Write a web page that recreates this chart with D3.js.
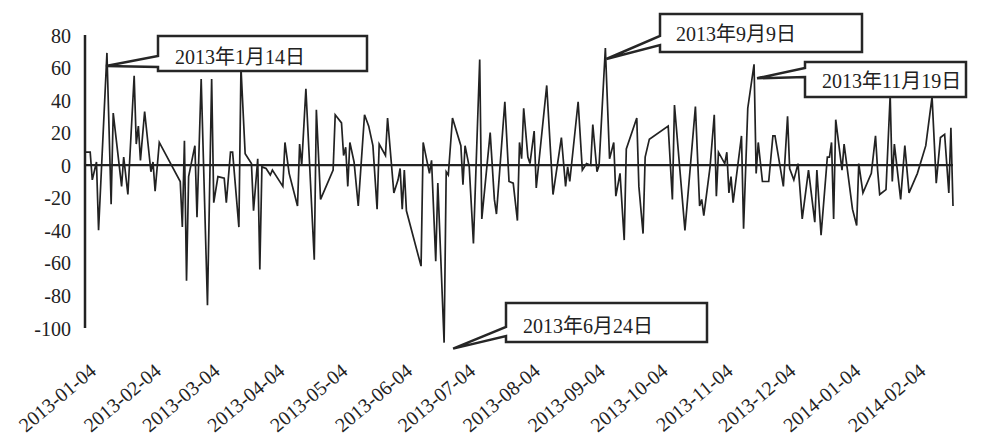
<!DOCTYPE html>
<html lang="zh">

<head>
    <meta charset="UTF-8">
    <script src="https://cdnjs.cloudflare.com/ajax/libs/d3/7.8.5/d3.min.js" type="text/JavaScript"></script>
    <title>Daily series 2013-01 to 2014-02</title>
    <style>
        body { margin: 0; background: #fff; }
        svg { display: block; }
        .lbl { font-family: "Liberation Serif", "Noto Sans CJK SC", serif; fill: #222; }
    </style>
</head>

<body>
    <svg width="1000" height="444"></svg>
    <script>
        // data: days after 2013-01-04 and value of that day
        var startDate = new Date(2013, 0, 4);
        var dayOffsets = [0, 2, 3, 5, 6, 10, 12, 13, 17, 18, 20, 23, 24, 25, 26, 28, 31, 32, 33, 35,
            45, 46, 47, 48, 49, 52, 53, 55, 58, 60, 61, 63, 66, 67, 69, 70, 73, 74, 76, 79,
            80, 82, 83, 84, 86, 88, 89, 94, 95, 97, 101, 102, 103, 105, 109, 110, 112, 118, 119, 122,
            123, 124, 125, 126, 128, 130, 133, 135, 137, 139, 140, 143, 144, 147, 149, 150, 151, 152, 153, 160,
            161, 164, 165, 167, 168, 171, 172, 173, 175, 179, 180, 181, 183, 185, 188, 189, 193, 195, 196, 200,
            202, 204, 206, 207, 208, 209, 211, 212, 214, 215, 220, 223, 227, 229, 230, 231, 235, 237, 239, 241,
            242, 244, 245, 248, 250, 252, 253, 255, 257, 258, 263, 264, 266, 267, 269, 278, 280, 281, 286, 291,
            293, 294, 295, 298, 300, 301, 302, 305, 306, 307, 308, 309, 313, 314, 316, 319, 320, 321, 323, 326,
            328, 329, 333, 335, 336, 338, 340, 342, 345, 348, 349, 351, 354, 355, 356, 357, 358, 361, 362, 366,
            368, 369, 371, 375, 377, 378, 379, 382, 384, 385, 386, 389, 391, 393, 397, 401, 404, 406, 408, 410,
            412, 413, 414];
        var values = [8, 8, -9, 2, -40, 69, -24, 32, -13, 5, -18, 55, 13, 24, 3, 33, -4, 2, -16, 14,
            -10, -38, 15, -71, -7, 12, -32, 53, -86, 53, -23, -7, -8, -23, 8, 8, -38, 60, 7, 1,
            -28, 4, -64, -1, -2, -6, -3, -13, 14, -5, -25, 13, 0, 47, -58, 34, -21, -3, 31, 26,
            6, 11, -13, 14, 2, -25, 31, 24, 12, -27, 13, 6, 29, -17, -9, -2, -27, -3, -28, -62,
            14, -5, 3, -59, -11, -109, -4, -6, 29, 12, -12, 12, -1, -48, 65, -33, 20, -21, -30, 39,
            -10, -11, -34, 14, 4, 35, 5, 1, 21, -14, 49, -18, 17, -13, -1, -10, 39, -3, 1, 0,
            25, -4, 0, 72, 4, 14, -19, -5, -46, 10, 29, -13, -42, 5, 16, 24, -21, 37, -40, 36,
            -25, -21, -31, -1, 31, -19, 8, 1, 8, -17, -7, -23, 18, -39, 35, 62, -5, 14, -10, -10,
            18, 18, -13, 30, -2, -9, 1, -33, -3, -35, -3, -43, 5, 5, 14, -33, 28, -3, 13, -27,
            -37, 1, -17, -5, 18, -3, -18, -15, 43, -10, 13, -21, 12, -17, -5, 12, 42, -11, 17, 19,
            -17, 23, -25];

        var monthTicks = ["2013-01-04", "2013-02-04", "2013-03-04", "2013-04-04", "2013-05-04",
            "2013-06-04", "2013-07-04", "2013-08-04", "2013-09-04", "2013-10-04", "2013-11-04",
            "2013-12-04", "2014-01-04", "2014-02-04"];
        var yTicks = [80, 60, 40, 20, 0, -20, -40, -60, -80, -100];

        var calloutLabels = ["2013年1月14日", "2013年6月24日", "2013年9月9日", "2013年11月19日"];
        var calloutDates = ["2013-01-14", "2013-06-24", "2013-09-09", "2013-11-19"];

        // box geometry of each callout (same order as the labels)
        var boxes = [
            { x0: 158, x1: 367, y0: 36, y1: 71, n0: 56, n1: 67, tdx: -1, tdy: 13, tx: 175, ty: 64 },
            { x0: 506, x1: 707, y0: 303, y1: 342, n0: 327, n1: 336, tdx: 9, tdy: 6, tx: 523, ty: 333 },
            { x0: 660, x1: 862, y0: 14, y1: 52, n0: 36, n1: 45, tdx: 1, tdy: 11, tx: 676, ty: 41 },
            { x0: 805, x1: 966, y0: 62, y1: 97, n0: 68, n1: 77, tdx: 3, tdy: 14, tx: 822, ty: 88 }
        ];

        var parse = d3.timeParse("%Y-%m-%d");
        var data = dayOffsets.map(function (d, i) {
            return { date: d3.timeDay.offset(startDate, d), value: values[i] };
        });

        var svg = d3.select("svg");

        var xScale = d3.scaleTime()
            .domain([startDate, d3.timeDay.offset(startDate, 414)])
            .range([86, 953]);
        var yScale = d3.scaleLinear().domain([-100, 80]).range([328, 35]);

        // y axis labels
        var yAxis = d3.axisLeft(yScale)
            .tickValues(yTicks)
            .tickSize(0)
            .tickPadding(14)
            .tickFormat(function (d) { return String(d); });
        var yG = svg.append("g").attr("transform", "translate(85,0)").call(yAxis);
        yG.select(".domain").remove();
        yG.selectAll("text")
            .attr("class", "lbl")
            .style("font-size", "20px")
            .attr("dy", "0.35em");

        svg.append("line")
            .attr("x1", 85).attr("x2", 85)
            .attr("y1", yScale(80)).attr("y2", yScale(-100))
            .attr("stroke", "#222").attr("stroke-width", 2.5);

        // x labels, rotated
        var xAxis = d3.axisBottom(xScale)
            .tickValues(monthTicks.map(parse))
            .tickSize(0)
            .tickFormat(d3.timeFormat("%Y-%m-%d"));
        var xG = svg.append("g").attr("transform", "translate(0,373)").call(xAxis);
        xG.select(".domain").remove();
        xG.selectAll("text")
            .attr("class", "lbl")
            .style("font-size", "20px")
            .attr("x", 0).attr("y", 0).attr("dy", 0)
            .attr("text-anchor", "end")
            .attr("transform", "translate(11,0) rotate(-40)");

        // zero line
        svg.append("line")
            .attr("x1", 85).attr("x2", xScale(data[data.length - 1].date))
            .attr("y1", yScale(0)).attr("y2", yScale(0))
            .attr("stroke", "#222").attr("stroke-width", 2.2);

        var line = d3.line()
            .x(function (d) { return xScale(d.date); })
            .y(function (d) { return yScale(d.value); });

        svg.append("path")
            .datum(data)
            .attr("d", line)
            .attr("fill", "none")
            .attr("stroke", "#222")
            .attr("stroke-width", 1.7)
            .attr("stroke-linejoin", "miter");

        // callouts
        calloutLabels.forEach(function (label, i) {
            var b = boxes[i];
            var dt = parse(calloutDates[i]);
            var pt = data.find(function (d) { return +d.date === +dt; });
            var tipX = xScale(pt.date) + b.tdx;
            var tipY = yScale(pt.value) + b.tdy;
            var p = "M" + b.x0 + "," + b.y0 + "H" + b.x1 + "V" + b.y1 + "H" + b.x0 +
                "V" + b.n1 + "L" + tipX + "," + tipY + "L" + b.x0 + "," + b.n0 + "Z";
            svg.append("path")
                .attr("d", p)
                .attr("fill", "#fff")
                .attr("stroke", "#262626")
                .attr("stroke-width", 2.5)
                .attr("stroke-linejoin", "miter");
            svg.append("text")
                .attr("class", "lbl")
                .attr("x", b.tx).attr("y", b.ty)
                .style("font-size", "20px")
                .text(label);
        });
    </script>
</body>

</html>
